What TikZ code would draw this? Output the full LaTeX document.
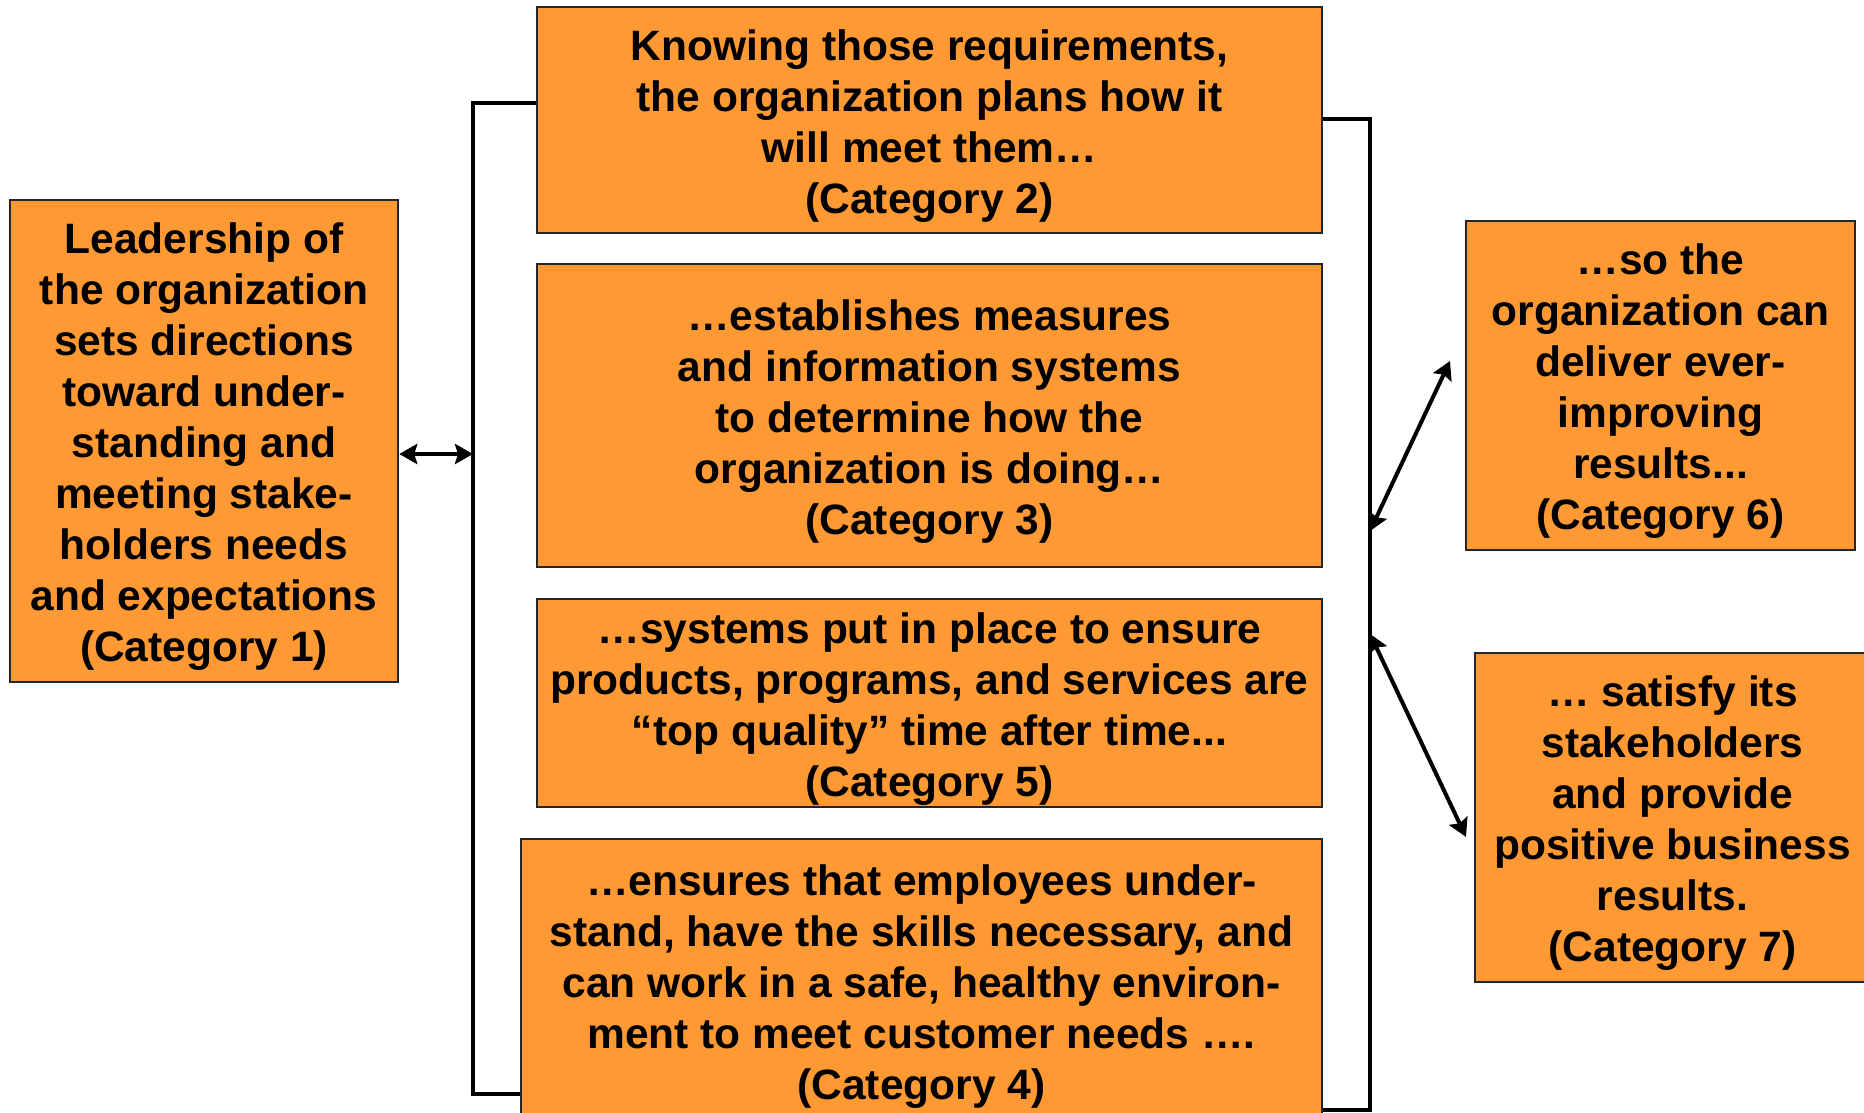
\documentclass[tikz,border=0pt]{standalone}
\usepackage{fontspec}
\setmainfont{Liberation Sans}
\usepackage{tikz}
\usetikzlibrary{arrows.meta}

\definecolor{boxorange}{HTML}{FF9933}

\begin{document}
\begin{tikzpicture}[
		x=0.5pt, y=-0.5pt,
		catbox/.style={draw=black!85, line width=1pt, fill=boxorange, inner sep=0pt},
		cattext/.style={inner sep=0pt, yshift=-3pt, align=center,
			font=\fontsize{21.25}{25.5}\selectfont\bfseries},
		bracket/.style={line width=2.25pt},
		dbl/.style={line width=2pt, {Stealth[length=9pt,width=10pt,inset=1.5pt]}-{Stealth[length=9pt,width=10pt,inset=1.5pt]}}]
		\useasboundingbox (0,0) rectangle (1864,1113);
		% frames
		\node[catbox, minimum width=194.25pt, minimum height=241pt] (c1) at (204,441) {};
		\node[catbox, minimum width=392.5pt, minimum height=113pt] (c2) at (929.5,120) {};
		\node[catbox, minimum width=392.5pt, minimum height=151.5pt] (c3) at (929.5,415.5) {};
		\node[catbox, minimum width=392.5pt, minimum height=104pt] (c5) at (929.5,703) {};
		\node[catbox, minimum width=400.5pt, minimum height=141.5pt] (c4) at (921.5,980.5) {};
		\node[catbox, minimum width=194.5pt, minimum height=164.5pt] (c6) at (1660.5,385.5) {};
		\node[catbox, minimum width=197.5pt, minimum height=164.5pt] (c7) at (1672.5,817.5) {};
		% texts
		\node[cattext] (t1) at (c1)
			{Leadership of\\the organization\\sets directions\\toward under-\\standing and\\meeting stake-\\holders needs\\and expectations\\(Category 1)};
		\node[cattext] (t2) at (c2)
			{Knowing those requirements,\\the organization plans how it\\will meet them…\\(Category 2)};
		\node[cattext] (t3) at (c3)
			{…establishes measures\\and information systems\\to determine how the\\organization is doing…\\(Category 3)};
		\node[cattext] (t5) at (c5)
			{…systems put in place to ensure\\products, programs, and services are\\“top quality” time after time...\\(Category 5)};
		\node[cattext] (t4) at (c4)
			{…ensures that employees under-\\stand, have the skills necessary, and\\can work in a safe, healthy environ-\\ment to meet customer needs ….\\(Category 4)};
		\node[cattext] (t6) at (c6)
			{…so the\\organization can\\deliver ever-\\improving\\results...\\(Category 6)};
		\node[cattext] (t7) at (c7)
			{… satisfy its\\stakeholders\\and provide\\positive business\\results.\\(Category 7)};
		% bracket corners and arrow ends
		\coordinate (lt) at (473,103);
		\coordinate (lb) at (473,1094);
		\coordinate (la) at (473,454);
		\coordinate (rt) at (1370,119);
		\coordinate (rb) at (1370,1110);
		\coordinate (r6) at (1370,531);
		\coordinate (r7) at (1370,634);
		\coordinate (e6) at (1450,361);
		\coordinate (e7) at (1466,837);
		\draw[bracket] (c2.west |- lt) -- (lt) -- (lb) -- (c4.west |- lb);
		\draw[bracket] (c2.east |- rt) -- (rt) -- (rb) -- (c4.east |- rb);
		\draw[dbl] (c1.east |- la) -- (la);
		\draw[dbl] (r6) -- (e6);
		\draw[dbl] (r7) -- (e7);
\end{tikzpicture}
\end{document}
